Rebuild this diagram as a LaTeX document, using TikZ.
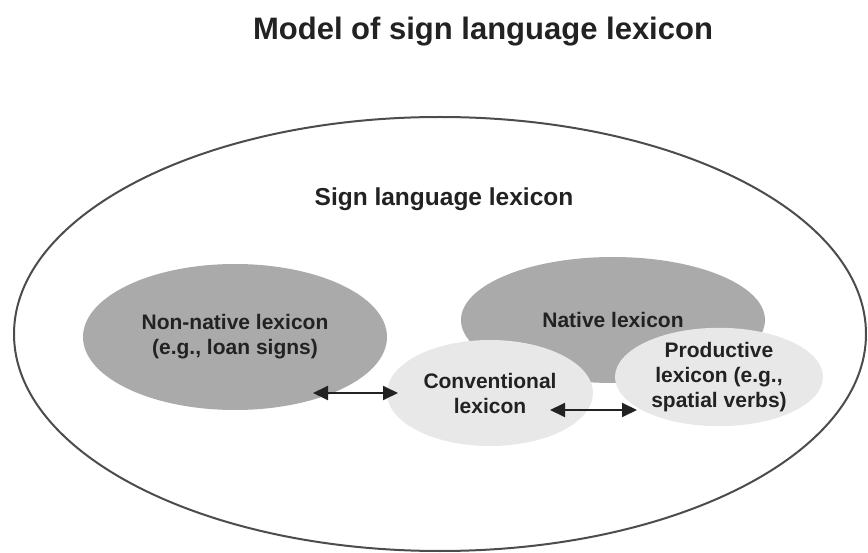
\documentclass[tikz,border=0pt]{standalone}
\usepackage{fontspec}
\setmainfont{Liberation Sans}
\usetikzlibrary{shapes.geometric,arrows.meta}
\definecolor{darklex}{HTML}{AAAAAA}
\definecolor{lightlex}{HTML}{E8E8E8}
\definecolor{inktext}{HTML}{222222}
\begin{document}
\begin{tikzpicture}[x=1pt, y=-1pt,
    lexset/.style={ellipse, inner sep=0pt, align=center, text=inktext,
      font=\bfseries\fontsize{21}{25}\selectfont},
    twoway/.style={{Triangle[length=15pt,width=14pt]}-{Triangle[length=15pt,width=14pt]},
      line width=2pt, draw=inktext}]
      \useasboundingbox (0,0) rectangle (868,553);
      %
      \node[font=\bfseries\fontsize{31}{36}\selectfont, text=inktext, anchor=base]
        (title) at (483,40) {Model of sign language lexicon};          % title
      %
      \node[lexset, draw=black!70, line width=2pt,
        minimum width=852, minimum height=434] (whole) at (440,334) {}; % outer set
      \node[font=\bfseries\fontsize{24.5}{28}\selectfont, text=inktext, anchor=base]
        (signlex) at (444,206) {Sign language lexicon};
      %
      \node[lexset, fill=darklex, minimum width=304, minimum height=146]
        (nonnative) at (235,337) {Non-native lexicon\\(e.g., loan signs)};  % dark sets
      \node[lexset, fill=darklex, minimum width=304, minimum height=126]
        (native) at (613,320) {Native lexicon};
      %
      \node[lexset, fill=lightlex, minimum width=206, minimum height=106]
        (conventional) at (490,393) {Conventional\\lexicon};              % light sets
      \node[lexset, fill=lightlex, minimum width=208, minimum height=98]
        (productive) at (719,377) {Productive\\lexicon (e.g.,\\spatial verbs)};
      %
      \draw[twoway] ([xshift=78pt,yshift=-56pt]nonnative.center)
        -- ([xshift=-92pt]conventional.center);                          % arrows
      \draw[twoway] ([xshift=60pt,yshift=-17pt]conventional.center)
        -- ([xshift=-82pt,yshift=-33pt]productive.center);
      %
    \end{tikzpicture}
\end{document}
